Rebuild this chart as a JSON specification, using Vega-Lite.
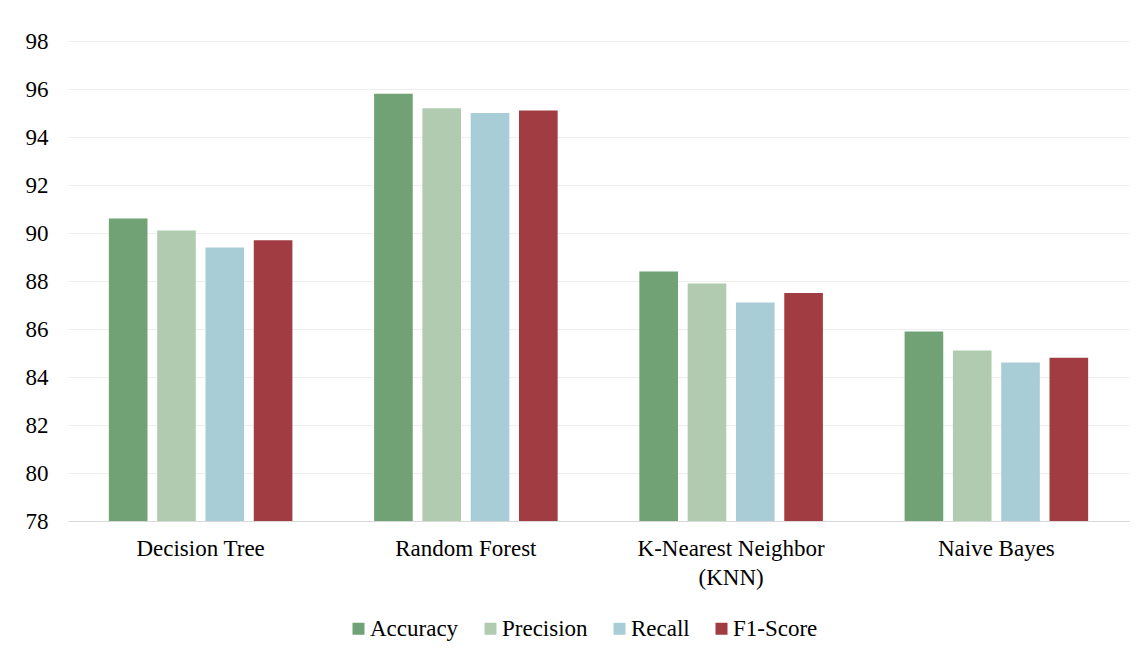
{
  "$schema": "https://vega.github.io/schema/vega-lite/v6.json",
  "autosize": {"type": "none"},
  "width": 1061,
  "height": 480,
  "padding": {"left": 68, "top": 41, "right": 15, "bottom": 138},
  "background": "white",
  "title": {"text": "Graph.1 Comparison Graph", "font": "Liberation Serif", "fontSize": 23, "fontStyle": "italic", "fontWeight": "normal", "color": "#000000", "anchor": "middle", "offset": 35, "dx": -15},
  "data": {"values": [
    {"model": "Decision Tree", "metric": "Accuracy", "value": 90.6},
    {"model": "Decision Tree", "metric": "Precision", "value": 90.1},
    {"model": "Decision Tree", "metric": "Recall", "value": 89.4},
    {"model": "Decision Tree", "metric": "F1-Score", "value": 89.7},
    {"model": "Random Forest", "metric": "Accuracy", "value": 95.8},
    {"model": "Random Forest", "metric": "Precision", "value": 95.2},
    {"model": "Random Forest", "metric": "Recall", "value": 95.0},
    {"model": "Random Forest", "metric": "F1-Score", "value": 95.1},
    {"model": "K-Nearest Neighbor|(KNN)", "metric": "Accuracy", "value": 88.4},
    {"model": "K-Nearest Neighbor|(KNN)", "metric": "Precision", "value": 87.9},
    {"model": "K-Nearest Neighbor|(KNN)", "metric": "Recall", "value": 87.1},
    {"model": "K-Nearest Neighbor|(KNN)", "metric": "F1-Score", "value": 87.5},
    {"model": "Naive Bayes", "metric": "Accuracy", "value": 85.9},
    {"model": "Naive Bayes", "metric": "Precision", "value": 85.1},
    {"model": "Naive Bayes", "metric": "Recall", "value": 84.6},
    {"model": "Naive Bayes", "metric": "F1-Score", "value": 84.8}
  ]},
  "mark": {"type": "bar"},
  "encoding": {
    "x": {
      "field": "model", "type": "nominal",
      "sort": ["Decision Tree", "Random Forest", "K-Nearest Neighbor|(KNN)", "Naive Bayes"],
      "scale": {"paddingInner": 0.308, "paddingOuter": 0.154},
      "axis": {"title": null, "labelAngle": 0, "labelExpr": "split(datum.label, '|')", "labelLimit": 0, "labelFont": "Liberation Serif", "labelFontSize": 23, "labelColor": "#000000", "labelPadding": 16, "labelLineHeight": 29, "ticks": false, "domain": true, "domainColor": "#d9d9d9", "domainWidth": 1, "grid": false}
    },
    "xOffset": {
      "field": "metric", "type": "nominal",
      "sort": ["Accuracy", "Precision", "Recall", "F1-Score"],
      "scale": {"paddingInner": 0.2, "paddingOuter": 0}
    },
    "y": {
      "field": "value", "type": "quantitative",
      "scale": {"domain": [78, 98], "zero": false, "nice": false},
      "axis": {"title": null, "values": [78, 80, 82, 84, 86, 88, 90, 92, 94, 96, 98], "labelFont": "Liberation Serif", "labelFontSize": 23, "labelColor": "#000000", "labelPadding": 20, "ticks": false, "domain": false, "grid": true, "gridColor": "#eeeeee", "gridWidth": 1}
    },
    "y2": {"datum": 78},
    "color": {
      "field": "metric", "type": "nominal",
      "sort": ["Accuracy", "Precision", "Recall", "F1-Score"],
      "scale": {"domain": ["Accuracy", "Precision", "Recall", "F1-Score"], "range": ["#71a275", "#b0cbaf", "#a9cdd6", "#a13d42"]},
      "legend": {"title": null, "orient": "none", "legendX": 279, "legendY": 576, "direction": "horizontal", "columns": 4, "symbolType": "square", "symbolSize": 144, "symbolStrokeWidth": 0, "labelFont": "Liberation Serif", "labelFontSize": 23, "labelColor": "#000000", "labelOffset": 0, "columnPadding": 20}
    }
  },
  "config": {"font": "Liberation Serif", "axis": {"labelFont": "Liberation Serif"}, "view": {"stroke": null}}
}
